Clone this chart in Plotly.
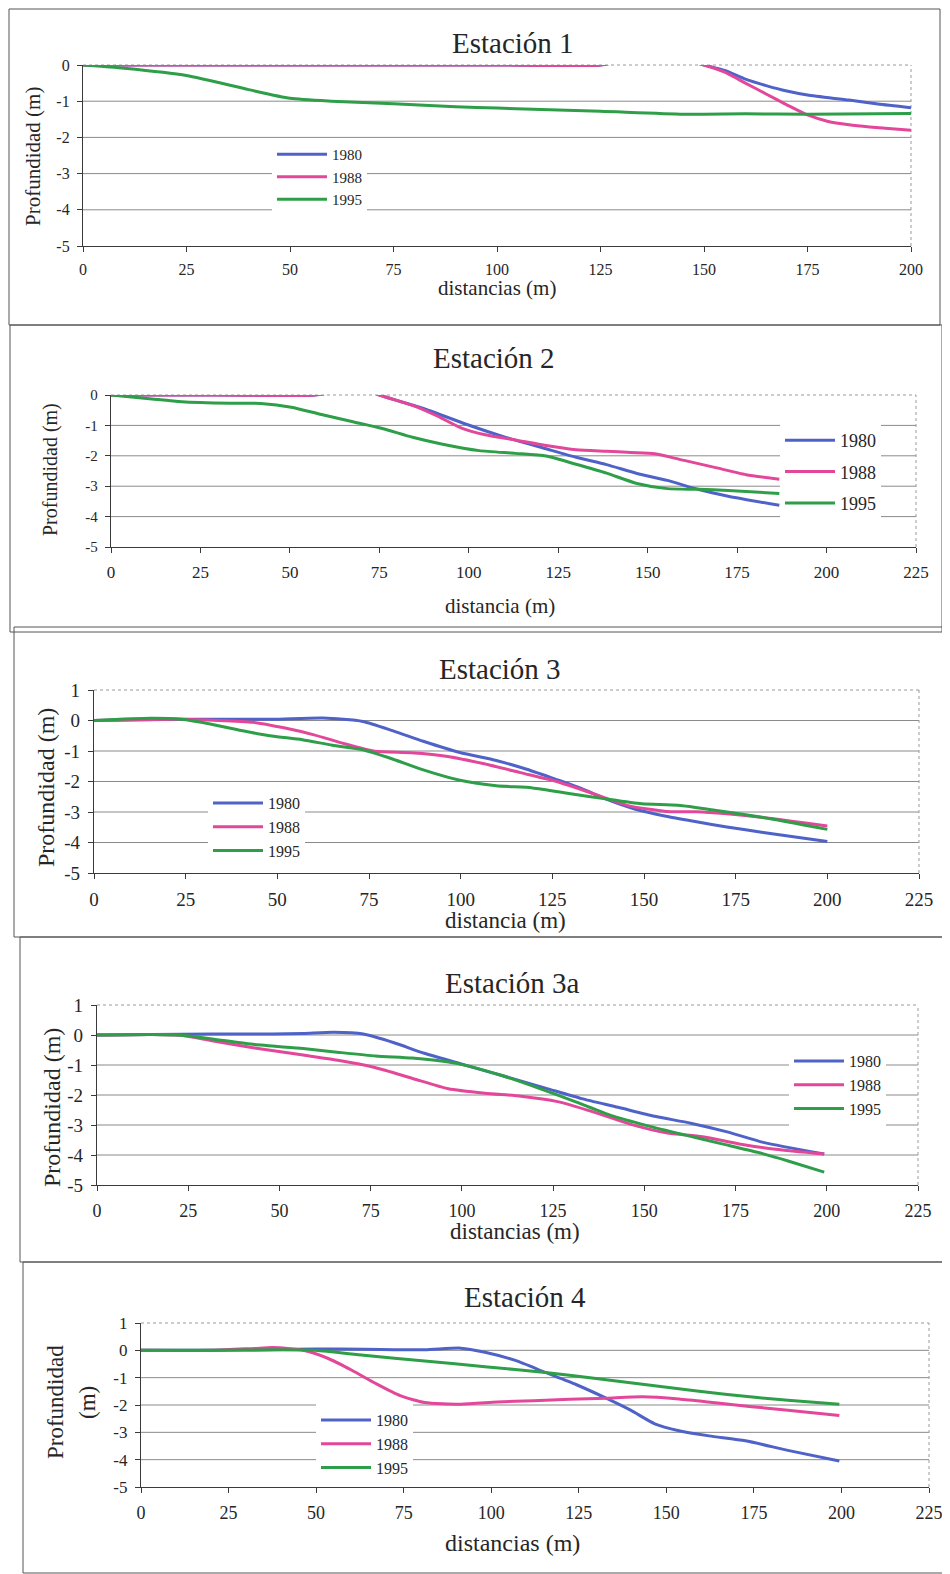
import plotly.graph_objects as go

# The page body has an 8px margin, so the figure is sized 942x1566 and every
# pixel position below (given in window pixels) is shifted by that margin.
OFF = 8
W, H = 950 - OFF, 1574 - OFF
FONT = "Liberation Serif"
TXT = "#262626"
C80, C88, C95 = "#4f62c8", "#e3479a", "#2e9e48"
YEARS = ["1980", "1988", "1995"]

# ---------------- data (distance m, depth m) ----------------
# Estación 1
e1_x80 = [0, 50, 100, 125, 132, 145, 150, 155, 160, 165, 170, 175, 185, 192, 200]
e1_y80 = [0, 0, 0, 0, 0.15, 0.15, 0, -0.15, -0.39, -0.57, -0.72, -0.83, -0.97, -1.08, -1.18]
e1_x88 = [0, 50, 100, 125, 132, 145, 150, 155, 160, 165, 170, 175, 180, 185, 190, 200]
e1_y88 = [0, 0, 0, 0, 0.15, 0.15, 0, -0.2, -0.5, -0.8, -1.1, -1.38, -1.56, -1.65, -1.71, -1.8]
e1_x95 = [0, 10, 25, 40, 50, 60, 75, 90, 100, 125, 145, 160, 175, 200]
e1_y95 = [0, -0.09, -0.29, -0.68, -0.92, -1.0, -1.07, -1.15, -1.19, -1.28, -1.36, -1.35, -1.36, -1.34]

# Estación 2
e2_x80 = [0, 30, 57, 65, 72, 75, 87.7, 99.5, 109.7, 121.6, 130, 138.5, 147, 155.5, 164, 172.5, 186.8]
e2_y80 = [0, 0, 0, 0.15, 0.15, 0, -0.46, -0.97, -1.37, -1.77, -2.05, -2.29, -2.58, -2.81, -3.1, -3.33, -3.63]
e2_x88 = [0, 30, 57, 65, 72, 75, 84.3, 91, 97.8, 104.6, 113, 121.6, 130, 138.5, 145.3, 152, 160.5, 169, 177.5, 186.8]
e2_y88 = [0, 0, 0, 0.15, 0.15, 0, -0.34, -0.68, -1.08, -1.31, -1.48, -1.66, -1.8, -1.85, -1.89, -1.93, -2.16, -2.39, -2.62, -2.77]
e2_x95 = [0, 11.4, 19.8, 33.4, 41.9, 50.4, 58.8, 67.3, 75.8, 84.3, 92.7, 102.9, 113, 121.6, 130, 138.5, 147, 155.5, 164, 172.5, 186.8]
e2_y95 = [0, -0.13, -0.22, -0.27, -0.28, -0.4, -0.64, -0.87, -1.1, -1.39, -1.62, -1.83, -1.92, -2.01, -2.28, -2.57, -2.91, -3.08, -3.1, -3.14, -3.24]

# Estación 3
e3_x80 = [0, 23.7, 48.5, 62.5, 73.3, 81.6, 89.8, 99.8, 109.7, 118, 126.2, 132.9, 139.5, 147.7, 156, 164.3, 172.6, 182.5, 200]
e3_y80 = [0, 0.04, 0.04, 0.08, -0.03, -0.34, -0.68, -1.05, -1.31, -1.6, -1.94, -2.23, -2.57, -2.91, -3.14, -3.32, -3.49, -3.67, -3.97]
e3_x88 = [0, 23.7, 43.5, 51.8, 60, 68.3, 76.6, 86.5, 96.5, 106.4, 116.3, 126.2, 136.2, 146, 156, 164.3, 172.6, 182.5, 200]
e3_y88 = [0, 0.04, -0.06, -0.24, -0.47, -0.76, -1.01, -1.06, -1.18, -1.42, -1.71, -2.0, -2.4, -2.8, -2.98, -2.99, -3.06, -3.18, -3.46]
e3_x95 = [0, 15.4, 23.7, 32, 40.2, 48.5, 56.8, 65, 73.3, 81.6, 89.8, 99.8, 109.7, 119.6, 129.5, 139.5, 149.4, 159.3, 169.3, 182.5, 200]
e3_y95 = [0, 0.07, 0.04, -0.12, -0.33, -0.51, -0.63, -0.81, -0.96, -1.27, -1.62, -1.96, -2.14, -2.21, -2.39, -2.57, -2.73, -2.78, -2.94, -3.18, -3.57]

# Estación 3a
e3a_x80 = [0, 15, 31.5, 48, 56.5, 64.8, 73, 81.4, 89.7, 99.6, 111.2, 122.9, 132.8, 142.8, 152.8, 162.7, 172.7, 182.6, 199.3]
e3a_y80 = [0, 0.02, 0.03, 0.03, 0.05, 0.09, 0.03, -0.26, -0.61, -0.96, -1.36, -1.77, -2.12, -2.41, -2.71, -2.94, -3.23, -3.58, -3.97]
e3a_x88 = [0, 15, 23.2, 31.5, 43.2, 56.5, 66.4, 76.4, 86.3, 96.3, 106.3, 116.2, 126.2, 136.2, 146.1, 156, 166, 176, 186, 199.3]
e3a_y88 = [0, 0.02, -0.01, -0.19, -0.43, -0.67, -0.85, -1.09, -1.44, -1.79, -1.94, -2.04, -2.22, -2.57, -2.97, -3.26, -3.39, -3.63, -3.81, -3.97]
e3a_x95 = [0, 15, 23.2, 31.5, 43.2, 56.5, 66.4, 76.4, 86.3, 96.3, 101.3, 111.2, 121, 131.2, 141, 151, 161, 171, 181, 189.4, 199.3]
e3a_y95 = [0, 0.02, -0.01, -0.13, -0.32, -0.45, -0.58, -0.7, -0.77, -0.9, -1.02, -1.36, -1.77, -2.23, -2.69, -3.03, -3.33, -3.62, -3.91, -4.2, -4.57]

# Estación 4
e4_x80 = [0, 20.4, 37.7, 49.8, 63.6, 81, 91.3, 98.2, 106.9, 115.5, 124.2, 132.8, 139.8, 146.7, 153.6, 162.2, 172.6, 184.7, 199.4]
e4_y80 = [0, 0, 0.02, 0.05, 0.04, 0.02, 0.08, -0.07, -0.37, -0.81, -1.25, -1.75, -2.19, -2.69, -2.94, -3.13, -3.31, -3.66, -4.05]
e4_x88 = [0, 20.4, 32.5, 37.7, 46.3, 53.3, 60.2, 67.1, 74, 81, 91.3, 101.7, 112, 122.4, 132.8, 143.2, 153.6, 164, 174.3, 184.7, 199.4]
e4_y88 = [0, 0, 0.07, 0.1, 0, -0.29, -0.73, -1.22, -1.66, -1.91, -1.97, -1.89, -1.84, -1.79, -1.75, -1.7, -1.78, -1.92, -2.06, -2.19, -2.38]
e4_x95 = [0, 20.4, 37.7, 49.8, 63.6, 81, 98.2, 115.5, 132.8, 150.1, 167.4, 184.7, 199.4]
e4_y95 = [0, 0, 0.02, 0, -0.18, -0.39, -0.6, -0.81, -1.08, -1.35, -1.62, -1.83, -1.97]

titles = ["Estación 1", "Estación 2", "Estación 3", "Estación 3a", "Estación 4"]
xtitles = ["distancias (m)", "distancia (m)", "distancia (m)", "distancias (m)", "distancias (m)"]
ytitle = "Profundidad (m)"
xmax = [200, 225, 225, 225, 225]
ymax = [0, 0, 1, 1, 1]

series = [
    [(e1_x80, e1_y80), (e1_x88, e1_y88), (e1_x95, e1_y95)],
    [(e2_x80, e2_y80), (e2_x88, e2_y88), (e2_x95, e2_y95)],
    [(e3_x80, e3_y80), (e3_x88, e3_y88), (e3_x95, e3_y95)],
    [(e3a_x80, e3a_y80), (e3a_x88, e3a_y88), (e3a_x95, e3a_y95)],
    [(e4_x80, e4_y80), (e4_x88, e4_y88), (e4_x95, e4_y95)],
]

# ---------------- layout geometry (window pixels) ----------------
# plot area: left, right, top, bottom
dom = [(83, 911, 65, 246), (111, 916, 395, 547), (94, 919, 690, 873), (97, 918, 1005, 1185), (141, 929, 1323, 1487)]
boxes = [(9, 9, 940, 325), (10, 325, 942, 632), (14, 627, 945, 937), (20, 937, 946, 1262), (23, 1262, 948, 1573)]
title_pos = [(513, 43), (494, 358), (500, 669), (512, 983), (525, 1297)]
title_size = 29
xt_pos = [(497, 288), (500, 606), (505, 920), (515, 1231), (512, 1543)]
xt_size = [21, 21, 23, 23, 24]
yt_pos = [(33, 157), (50, 470), (46, 788), (52, 1108)]
yt_size = [21, 20, 24, 24, 23]
tick_size = [16, 15, 19, 19, 17]
xtick_size = [16, 17, 19, 18, 18]
leg_pos = [(272, 177), (780, 472), (208, 827), (789, 1085), (316, 1444)]
leg_size = [15, 18, 16, 16, 16]
colors = [C80, C88, C95]


def fx(p):
    return (p - OFF) / W


def fy(p):
    return 1 - (p - OFF) / H


fig = go.Figure()
layout = dict(
    template="none",
    width=W, height=H, margin=dict(l=0, r=0, t=0, b=0, pad=0, autoexpand=False),
    paper_bgcolor="white", plot_bgcolor="white",
    font=dict(family=FONT, color=TXT),
    showlegend=True,
)
shapes = []
annotations = []

for i in range(5):
    n = i + 1
    xa = "xaxis" if n == 1 else f"xaxis{n}"
    ya = "yaxis" if n == 1 else f"yaxis{n}"
    xr = "x" if n == 1 else f"x{n}"
    yr = "y" if n == 1 else f"y{n}"
    lg = "legend" if n == 1 else f"legend{n}"
    l, r, t, b = dom[i]
    xticks = list(range(0, xmax[i] + 1, 25))
    yticks = list(range(-5, ymax[i] + 1))
    layout[xa] = dict(
        domain=[fx(l), fx(r)], anchor=yr, range=[0, xmax[i]], automargin=False,
        tickmode="array", tickvals=xticks, ticktext=[str(v) for v in xticks],
        showline=True, linecolor="#3a3a3a", linewidth=1.3,
        ticks="outside", ticklen=5, tickcolor="#3a3a3a",
        showgrid=False, zeroline=False, ticklabelstandoff=4,
        tickfont=dict(family=FONT, size=xtick_size[i], color=TXT),
    )
    layout[ya] = dict(
        domain=[fy(b), fy(t)], anchor=xr, range=[-5, ymax[i]], automargin=False,
        tickmode="array", tickvals=yticks, ticktext=[str(v) for v in yticks],
        showline=True, linecolor="#3a3a3a", linewidth=1.3,
        ticks="outside", ticklen=5, tickcolor="#3a3a3a",
        showgrid=False, zeroline=False, ticklabelstandoff=4,
        tickfont=dict(family=FONT, size=tick_size[i], color=TXT),
    )
    # horizontal gridlines
    for v in range(-4, ymax[i]):
        shapes.append(dict(type="line", xref=f"{xr} domain", yref=yr, x0=0, x1=1, y0=v, y1=v,
                           line=dict(color="#8a8a8a", width=1), layer="below"))
    # dotted top and right borders of the plot area
    shapes.append(dict(type="line", xref=f"{xr} domain", yref=f"{yr} domain", x0=0, x1=1, y0=1, y1=1,
                       line=dict(color="#9a9a9a", width=1, dash="dot"), layer="below"))
    shapes.append(dict(type="line", xref=f"{xr} domain", yref=f"{yr} domain", x0=1, x1=1, y0=0, y1=1,
                       line=dict(color="#9a9a9a", width=1, dash="dot"), layer="below"))
    # panel frame
    bx0, by0, bx1, by1 = boxes[i]
    shapes.append(dict(type="rect", xref="paper", yref="paper", x0=fx(bx0), x1=fx(bx1), y0=fy(by1), y1=fy(by0),
                       line=dict(color="#555555", width=1), layer="below"))

    # titles
    annotations.append(dict(text=titles[i], x=fx(title_pos[i][0]), y=fy(title_pos[i][1]), xref="paper", yref="paper",
                            showarrow=False, xanchor="center", yanchor="middle",
                            font=dict(family=FONT, size=title_size, color=TXT)))
    annotations.append(dict(text=xtitles[i], x=fx(xt_pos[i][0]), y=fy(xt_pos[i][1]), xref="paper", yref="paper",
                            showarrow=False, xanchor="center", yanchor="middle",
                            font=dict(family=FONT, size=xt_size[i], color=TXT)))
    if n < 5:
        annotations.append(dict(text=ytitle, x=fx(yt_pos[i][0]), y=fy(yt_pos[i][1]), xref="paper", yref="paper",
                                showarrow=False, xanchor="center", yanchor="middle", textangle=-90,
                                font=dict(family=FONT, size=yt_size[i], color=TXT)))
    else:
        annotations.append(dict(text="Profundidad", x=fx(55), y=fy(1402), xref="paper", yref="paper",
                                showarrow=False, xanchor="center", yanchor="middle", textangle=-90,
                                font=dict(family=FONT, size=yt_size[i], color=TXT)))
        annotations.append(dict(text="(m)", x=fx(87), y=fy(1403), xref="paper", yref="paper",
                                showarrow=False, xanchor="center", yanchor="middle", textangle=-90,
                                font=dict(family=FONT, size=yt_size[i], color=TXT)))

    # legend
    lx, ly = leg_pos[i]
    layout[lg] = dict(
        x=fx(lx), y=fy(ly), xref="paper", yref="paper", xanchor="left", yanchor="middle",
        bgcolor="white", borderwidth=0, itemwidth=50,
        font=dict(family=FONT, size=leg_size[i], color=TXT),
        traceorder="grouped", tracegroupgap=(5 if n == 2 else 0),
    )

    for k, (xs, ys) in enumerate(series[i]):
        fig.add_trace(go.Scatter(
            x=xs, y=ys, mode="lines", name=YEARS[k],
            line=dict(color=colors[k], width=3, shape="spline", smoothing=0.6),
            xaxis=xr, yaxis=yr, legend=lg, legendgroup=f"p{n}_{YEARS[k]}",
        ))

layout["shapes"] = shapes
layout["annotations"] = annotations
fig.update_layout(**layout)
fig.write_html("out.html")
